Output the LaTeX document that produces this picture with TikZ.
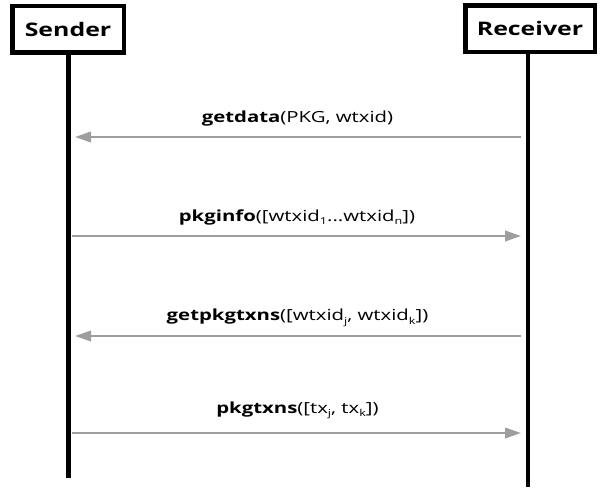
\documentclass[tikz,border=0pt]{standalone}
\usepackage{fontspec}
\setmainfont{Open Sans}
\usetikzlibrary{arrows.meta}
\newcommand\wide[1]{\scalebox{1.33}[1]{#1}}
\newcommand\sbs[1]{\raisebox{-0.42ex}{\fontsize{9.5}{10}\selectfont #1}}
\definecolor{msggray}{HTML}{9E9E9E}
\begin{document}
\begin{tikzpicture}[x=1pt,y=-1pt,
  actor/.style={draw=black,line width=4.5pt,fill=white,minimum height=46.5pt,inner sep=0pt,font=\fontsize{18.7}{22}\selectfont\bfseries},
  life/.style={line width=4.5pt,black},
  msg/.style={draw=msggray,line width=2.3pt,-{Triangle[length=16pt,width=10.5pt]}},
  lbl/.style={font=\fontsize{15.3}{18}\selectfont,inner sep=0pt,anchor=base}]
\useasboundingbox (0,0) rectangle (605,488);
\node[actor,minimum width=111.5pt] (s) at (68,29) {\wide{Sender}};
\node[actor,minimum width=129.5pt] (r) at (530,28.5) {\wide{Receiver}};
\coordinate (se) at (68.5,478);
\coordinate (re) at (528,487);
\draw[life] (s.south -| se) -- (se);
\draw[life] (r.south -| re) -- (re);
\coordinate (a1r) at (521,137); \coordinate (a1s) at (75,137);
\coordinate (a2r) at (521,236); \coordinate (a2s) at (72,236);
\coordinate (a3r) at (521,336); \coordinate (a3s) at (75,336);
\coordinate (a4r) at (521,433); \coordinate (a4s) at (72,433);
\draw[msg] (a1r) -- (a1s);
\draw[msg] (a2s) -- (a2r);
\draw[msg] (a3r) -- (a3s);
\draw[msg] (a4s) -- (a4r);
\node[lbl] (l1) at (297.5,122) {\wide{\textbf{getdata}(PKG, wtxid)}};
\node[lbl] (l2) at (297,221) {\wide{\textbf{pkginfo}([wtxid\sbs{1}...wtxid\sbs{n}])}};
\node[lbl] (l3) at (297.5,320.7) {\wide{\textbf{getpkgtxns}([wtxid\sbs{j}, wtxid\sbs{k}])}};
\node[lbl] (l4) at (297.5,413.3) {\wide{\textbf{pkgtxns}([tx\sbs{j}, tx\sbs{k}])}};
\end{tikzpicture}
\end{document}
